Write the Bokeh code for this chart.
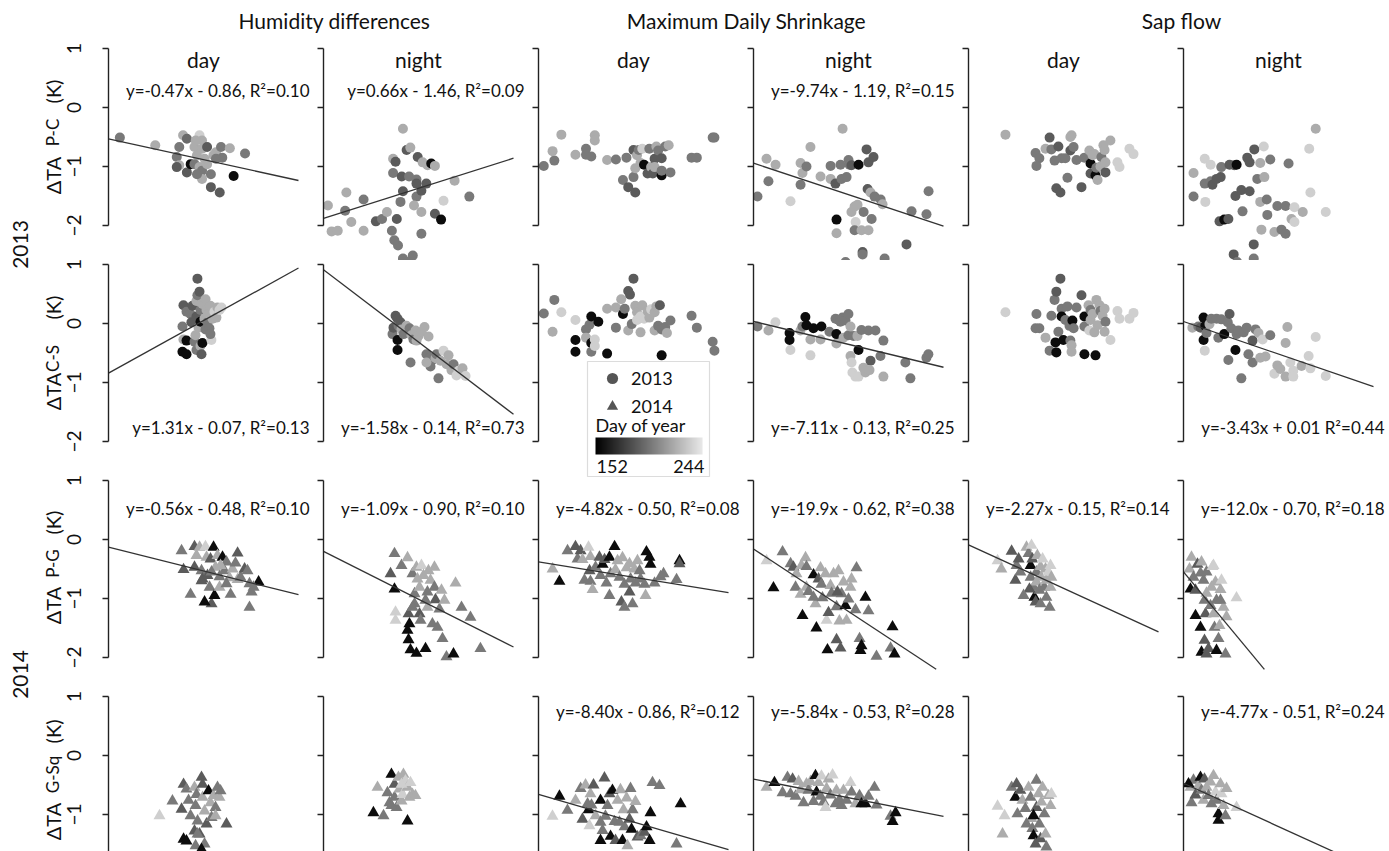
from math import pi

from bokeh.core.properties import value
from bokeh.embed import file_html
from bokeh.layouts import column, gridplot, row
from bokeh.models import (BoxAnnotation, ColorBar, ColumnDataSource, FixedTicker,
                          Label, Legend, LegendItem, LinearAxis, LinearColorMapper,
                          Range1d)
from bokeh.plotting import figure
from bokeh.resources import INLINE

FONT = "Lato"
INK = "#111111"
AXIS_INK = "#222222"

# ---------------------------------------------------------------------------
# Observations: (predictor value, temperature difference in K, day of year)
# rows: dTA P-C 2013, dTA C-S 2013, dTA P-G 2014, dTA G-Sq 2014
# cols: humidity diff day/night, max daily shrinkage day/night, sap flow day/night
# ---------------------------------------------------------------------------
pc13_hd_day = [
    (-0.61, -0.51, 200), (-0.33, -0.64, 220), (-0.16, -0.84, 200), (-0.14, -0.98, 220),
    (-0.11, -0.47, 220), (-0.08, -0.53, 194), (-0.02, -0.67, 220), (0.00, -0.81, 220),
    (0.02, -0.47, 234), (0.04, -0.56, 220), (0.04, -0.70, 220), (-0.08, -1.10, 188),
    (-0.05, -0.96, 157), (-0.02, -0.96, 200), (0.02, -1.01, 220), (0.04, -1.07, 200),
    (0.04, -1.21, 220), (0.08, -0.96, 220), (0.08, -0.67, 188), (0.11, -1.35, 188),
    (0.13, -0.81, 220), (0.15, -0.76, 220), (0.18, -1.44, 188), (0.19, -0.67, 200),
    (0.20, -0.85, 200), (0.26, -0.69, 220), (0.29, -1.16, 157), (0.38, -0.78, 200),
    (0.11, -1.13, 200), (0.00, -1.13, 200), (0.06, -0.87, 220), (-0.01, -0.56, 220),
    (-0.14, -0.67, 200), (-0.16, -1.01, 188), (0.15, -0.87, 200),
]
pc13_hd_night = [
    (-0.60, -1.66, 220), (-0.57, -2.10, 220), (-0.52, -2.09, 220), (-0.45, -1.44, 220),
    (-0.46, -1.75, 200), (-0.41, -1.94, 220), (-0.31, -1.56, 200), (-0.31, -2.09, 220),
    (-0.21, -1.93, 188), (-0.16, -1.89, 200), (-0.12, -1.77, 220), (-0.08, -2.09, 200),
    (-0.04, -1.89, 188), (-0.01, -1.60, 200), (-0.07, -0.87, 220), (-0.07, -1.11, 200),
    (-0.05, -0.92, 188), (0.01, -0.36, 220), (0.04, -0.72, 188), (0.07, -0.68, 220),
    (0.00, -1.17, 188), (0.06, -1.17, 200), (0.12, -1.22, 200), (0.12, -1.29, 188),
    (0.01, -1.42, 188), (0.12, -1.51, 200), (0.16, -1.41, 188), (0.10, -1.66, 220),
    (0.16, -1.77, 220), (0.13, -0.84, 188), (0.17, -0.93, 220), (0.21, -0.98, 220),
    (0.24, -0.95, 157), (0.27, -0.99, 220), (0.20, -1.29, 188), (0.27, -1.80, 188),
    (0.32, -1.90, 157), (0.34, -1.58, 234), (0.43, -1.24, 220), (0.55, -1.51, 200),
    (0.16, -2.14, 200), (-0.03, -2.34, 200), (0.01, -2.56, 200), (0.09, -2.51, 200),
    (0.05, -2.62, 200), (-0.06, -2.25, 200),
]
pc13_mds_day = [
    (-0.022, -0.99, 200), (-0.016, -0.90, 200), (-0.017, -0.74, 220), (-0.012, -0.46, 220),
    (-0.004, -0.80, 220), (0.002, -0.70, 200), (0.002, -0.80, 200), (0.005, -0.83, 200),
    (0.007, -0.47, 220), (0.007, -0.56, 220), (0.014, -0.89, 220), (0.019, -0.88, 200),
    (0.023, -1.23, 200), (0.025, -0.85, 200), (0.026, -1.35, 188), (0.029, -0.72, 188),
    (0.030, -1.44, 188), (0.029, -1.18, 200), (0.030, -1.03, 220), (0.031, -0.81, 220),
    (0.032, -0.72, 200), (0.033, -0.94, 220), (0.034, -0.70, 234), (0.035, -0.97, 157),
    (0.037, -1.12, 188), (0.038, -0.70, 200), (0.039, -1.01, 220), (0.040, -1.12, 188),
    (0.041, -0.87, 188), (0.041, -1.01, 220), (0.042, -0.66, 220), (0.043, -0.73, 200),
    (0.045, -0.86, 188), (0.045, -1.15, 157), (0.045, -1.07, 200), (0.047, -0.66, 200),
    (0.049, -0.64, 220), (0.050, -1.10, 200), (0.062, -0.85, 200), (0.065, -0.85, 200),
    (0.074, -0.51, 200), (0.075, -0.51, 200),
]
pc13_mds_night = [
    (-0.0230, -1.51, 200), (-0.0178, -0.87, 220), (-0.0167, -1.25, 200), (-0.0126, -0.97, 220),
    (-0.0040, -1.59, 234), (0.0018, -0.94, 220), (0.0018, -1.31, 200), (0.0029, -1.11, 220),
    (0.0052, -1.00, 200), (0.0075, -0.67, 220), (0.0133, -1.17, 220), (0.0191, -1.21, 220),
    (0.0191, -0.99, 200), (0.0219, -1.29, 188), (0.0225, -1.90, 157), (0.0225, -2.13, 220),
    (0.0248, -0.97, 200), (0.0254, -1.21, 200), (0.0260, -0.36, 220), (0.0283, -1.18, 200),
    (0.0294, -0.89, 200), (0.0300, -0.97, 200), (0.0311, -0.98, 188), (0.0311, -1.77, 220),
    (0.0329, -1.68, 220), (0.0335, -1.94, 234), (0.0329, -2.08, 200), (0.0346, -1.65, 220),
    (0.0352, -0.97, 157), (0.0369, -2.08, 220), (0.0375, -2.45, 188), (0.0381, -1.77, 200),
    (0.0398, -0.71, 188), (0.0404, -1.38, 188), (0.0409, -0.93, 188), (0.0409, -2.08, 220),
    (0.0421, -1.44, 220), (0.0427, -1.89, 200), (0.0438, -0.84, 188), (0.0444, -1.51, 200),
    (0.0479, -1.56, 200), (0.0490, -1.64, 220), (0.0628, -2.32, 188), (0.0657, -1.76, 200),
    (0.0743, -1.81, 200), (0.0755, -1.42, 200), (0.0277, -2.62, 200), (0.0375, -2.49, 200),
    (0.0502, -2.56, 200),
]
pc13_sf_day = [
    (0.100, -0.46, 220), (0.203, -0.77, 200), (0.216, -0.86, 200), (0.206, -0.99, 200),
    (0.237, -0.70, 220), (0.251, -0.51, 188), (0.257, -0.71, 200), (0.268, -0.90, 200),
    (0.281, -0.66, 188), (0.274, -1.37, 188), (0.288, -1.44, 188), (0.292, -0.86, 200),
    (0.305, -0.86, 200), (0.312, -1.19, 200), (0.322, -0.50, 220), (0.326, -0.47, 220),
    (0.322, -0.73, 188), (0.333, -0.67, 200), (0.343, -0.89, 200), (0.360, -1.35, 188),
    (0.370, -0.85, 200), (0.387, -0.73, 220), (0.391, -1.12, 188), (0.391, -0.95, 157),
    (0.398, -0.81, 220), (0.404, -0.79, 220), (0.408, -1.15, 157), (0.411, -1.02, 200),
    (0.415, -1.23, 220), (0.425, -1.00, 220), (0.428, -0.84, 200), (0.435, -0.64, 220),
    (0.439, -0.72, 220), (0.442, -1.10, 188), (0.442, -0.93, 220), (0.459, -0.56, 220),
    (0.483, -0.93, 234), (0.490, -1.01, 234), (0.524, -0.70, 234), (0.538, -0.79, 234),
]
pc13_sf_night = [
    (0.010, -1.11, 220), (0.010, -1.51, 200), (0.029, -0.87, 234), (0.029, -1.29, 200),
    (0.030, -1.60, 234), (0.039, -0.97, 234), (0.039, -1.25, 200), (0.042, -1.31, 188),
    (0.049, -1.21, 188), (0.056, -1.18, 188), (0.057, -1.01, 200), (0.054, -1.93, 188),
    (0.062, -1.90, 157), (0.069, -1.89, 188), (0.071, -0.97, 188), (0.079, -0.98, 188),
    (0.083, -0.97, 157), (0.081, -1.50, 188), (0.091, -1.40, 188), (0.093, -1.76, 200),
    (0.101, -0.85, 188), (0.105, -0.93, 188), (0.105, -1.42, 188), (0.112, -2.32, 188),
    (0.113, -0.71, 188), (0.118, -1.21, 200), (0.123, -0.94, 220), (0.123, -1.60, 220),
    (0.125, -2.07, 220), (0.129, -0.66, 234), (0.130, -1.18, 220), (0.134, -1.56, 200),
    (0.135, -1.82, 200), (0.140, -0.88, 200), (0.147, -2.11, 220), (0.152, -1.67, 200),
    (0.159, -2.07, 200), (0.166, -1.67, 200), (0.166, -2.14, 200), (0.171, -0.95, 200),
    (0.176, -1.89, 220), (0.181, -1.69, 234), (0.181, -1.94, 234), (0.195, -1.77, 220),
    (0.206, -0.70, 234), (0.208, -1.44, 234), (0.217, -0.36, 220), (0.234, -1.77, 234),
    (0.078, -2.49, 188), (0.084, -2.62, 200), (0.112, -2.56, 200),
]

cs13_hd_day = [
    (-0.052, 0.31, 188), (-0.030, 0.20, 200), (-0.059, -0.05, 200), (-0.052, -0.27, 220),
    (-0.030, -0.29, 157), (-0.059, -0.48, 157), (-0.030, -0.52, 157), (-0.002, 0.16, 200),
    (0.005, 0.02, 188), (0.013, 0.30, 188), (0.027, -0.31, 200), (0.034, -0.20, 220),
    (0.041, -0.45, 200), (0.041, 0.38, 220), (0.041, 0.12, 188), (0.048, 0.76, 188),
    (0.048, 0.48, 200), (0.056, -0.07, 220), (0.063, 0.54, 188), (0.070, 0.23, 200),
    (0.070, 0.03, 157), (0.070, -0.38, 220), (0.077, -0.52, 188), (0.084, -0.33, 157),
    (0.084, 0.33, 220), (0.098, 0.08, 220), (0.106, 0.41, 220), (0.106, -0.10, 200),
    (0.113, 0.23, 220), (0.120, 0.02, 200), (0.127, 0.16, 220), (0.134, -0.08, 200),
    (0.141, 0.30, 220), (0.148, -0.28, 234), (0.156, 0.08, 220), (0.170, 0.20, 234),
    (0.184, 0.10, 220), (0.191, 0.27, 220), (0.206, 0.23, 234), (0.220, 0.27, 234),
    (0.141, -0.18, 200),
]
cs13_hd_night = [
    (-0.102, -0.18, 200), (-0.094, -0.07, 188), (-0.077, 0.13, 188), (-0.061, 0.08, 188),
    (-0.053, -0.04, 200), (-0.061, -0.28, 157), (-0.061, -0.45, 157), (-0.037, 0.02, 188),
    (-0.029, -0.10, 220), (-0.012, -0.18, 200), (0.012, -0.04, 220), (0.037, -0.08, 200),
    (0.045, -0.66, 200), (0.053, -0.20, 220), (0.069, -0.27, 200), (0.086, -0.12, 220),
    (0.094, -0.29, 220), (0.110, -0.21, 220), (0.135, -0.14, 220), (0.159, -0.06, 220),
    (0.175, -0.52, 200), (0.192, -0.22, 220), (0.200, -0.58, 200), (0.224, -0.62, 200),
    (0.249, -0.59, 220), (0.257, -0.52, 200), (0.273, -0.93, 200), (0.290, -0.63, 220),
    (0.314, -0.46, 234), (0.339, -0.69, 220), (0.355, -0.54, 220), (0.379, -0.79, 220),
    (0.396, -0.69, 200), (0.420, -0.88, 234), (0.437, -0.80, 234), (0.469, -0.76, 220),
    (0.494, -0.89, 234), (0.208, -0.73, 200), (0.175, -0.66, 220),
]
cs13_mds_day = [
    (-0.022, 0.17, 200), (-0.016, 0.40, 200), (-0.017, -0.14, 220), (-0.012, 0.19, 234),
    (-0.004, -0.28, 157), (-0.004, -0.48, 157), (-0.004, 0.06, 234), (0.002, -0.10, 200),
    (0.002, -0.24, 220), (0.004, -0.02, 200), (0.005, 0.12, 157), (0.005, -0.33, 157),
    (0.005, -0.48, 200), (0.007, -0.27, 234), (0.007, -0.38, 234), (0.009, 0.03, 157),
    (0.014, 0.25, 220), (0.014, -0.51, 157), (0.019, -0.07, 200), (0.019, 0.27, 220),
    (0.022, 0.41, 220), (0.023, 0.16, 157), (0.024, 0.25, 200), (0.026, 0.55, 188),
    (0.027, 0.49, 188), (0.026, -0.12, 220), (0.028, -0.01, 200), (0.029, 0.76, 188),
    (0.030, 0.30, 220), (0.031, 0.19, 220), (0.031, 0.06, 234), (0.033, -0.15, 220),
    (0.033, 0.12, 234), (0.034, 0.31, 220), (0.035, 0.08, 234), (0.037, 0.21, 220),
    (0.038, 0.10, 220), (0.039, 0.24, 234), (0.041, -0.12, 220), (0.041, 0.19, 220),
    (0.042, 0.29, 220), (0.043, -0.04, 200), (0.044, 0.31, 188), (0.045, -0.54, 157),
    (0.045, -0.10, 200), (0.047, -0.06, 200), (0.048, -0.16, 220), (0.050, 0.05, 200),
    (0.062, 0.13, 200), (0.065, -0.07, 200), (0.074, -0.31, 200), (0.075, -0.46, 200),
]
cs13_mds_night = [
    (-0.0208, -0.05, 200), (-0.0145, -0.12, 220), (-0.0105, 0.02, 234), (-0.0024, -0.16, 157),
    (-0.0024, -0.28, 157), (-0.0019, -0.45, 234), (0.0039, -0.12, 220), (0.0050, -0.05, 200),
    (0.0067, 0.11, 157), (0.0073, -0.03, 157), (0.0096, -0.27, 220), (0.0096, -0.54, 234),
    (0.0113, -0.08, 157), (0.0154, -0.27, 220), (0.0159, -0.05, 157), (0.0205, -0.14, 200),
    (0.0240, 0.08, 200), (0.0245, -0.34, 220), (0.0245, -0.18, 157), (0.0257, 0.06, 200),
    (0.0268, 0.03, 200), (0.0280, 0.10, 200), (0.0286, -0.24, 220), (0.0297, 0.05, 200),
    (0.0314, 0.16, 200), (0.0314, -0.20, 200), (0.0326, -0.55, 220), (0.0326, -0.05, 220),
    (0.0332, -0.66, 234), (0.0337, -0.83, 234), (0.0343, -0.21, 200), (0.0354, -0.90, 234),
    (0.0366, -0.21, 220), (0.0372, -0.45, 157), (0.0372, -0.90, 234), (0.0389, -0.11, 200),
    (0.0400, -0.75, 220), (0.0412, -0.83, 220), (0.0429, -0.12, 200), (0.0441, -0.63, 188),
    (0.0435, -0.79, 220), (0.0469, -0.12, 200), (0.0498, -0.55, 200), (0.0515, -0.29, 200),
    (0.0515, -0.90, 220), (0.0641, -0.66, 200), (0.0670, -0.93, 200), (0.0762, -0.58, 200),
    (0.0773, -0.52, 200),
]
cs13_sf_day = [
    (0.100, 0.19, 234), (0.206, 0.16, 200), (0.203, -0.08, 200), (0.216, -0.08, 200),
    (0.237, -0.24, 220), (0.251, -0.46, 200), (0.257, 0.13, 200), (0.268, 0.40, 200),
    (0.271, -0.32, 157), (0.274, -0.49, 157), (0.274, 0.54, 188), (0.281, -0.14, 200),
    (0.288, 0.76, 188), (0.292, 0.25, 200), (0.292, 0.12, 157), (0.298, -0.28, 157),
    (0.305, 0.06, 200), (0.312, 0.29, 200), (0.319, -0.04, 200), (0.322, -0.29, 200),
    (0.326, -0.37, 220), (0.326, -0.48, 220), (0.329, 0.05, 157), (0.333, -0.08, 200),
    (0.343, 0.27, 200), (0.360, 0.48, 188), (0.370, -0.52, 157), (0.370, 0.12, 157),
    (0.370, -0.05, 200), (0.384, 0.31, 220), (0.387, -0.12, 234), (0.391, 0.23, 200),
    (0.391, 0.06, 220), (0.398, 0.16, 220), (0.404, -0.15, 220), (0.408, -0.54, 157),
    (0.411, 0.40, 220), (0.415, -0.03, 220), (0.422, 0.31, 220), (0.425, 0.21, 200),
    (0.432, 0.13, 220), (0.439, -0.14, 220), (0.439, 0.25, 220), (0.442, 0.03, 200),
    (0.459, -0.28, 234), (0.483, 0.21, 234), (0.490, 0.08, 234), (0.524, 0.08, 234),
    (0.538, 0.18, 234),
]
cs13_sf_night = [
    (0.008, -0.07, 220), (0.018, -0.05, 200), (0.022, -0.07, 188), (0.027, 0.10, 157),
    (0.027, -0.28, 157), (0.029, -0.46, 234), (0.030, -0.04, 157), (0.032, -0.16, 200),
    (0.037, -0.01, 220), (0.040, 0.08, 200), (0.049, 0.08, 200), (0.052, -0.24, 200),
    (0.057, 0.07, 200), (0.062, -0.18, 157), (0.068, 0.02, 200), (0.069, -0.62, 200),
    (0.071, 0.16, 188), (0.074, -0.08, 200), (0.081, -0.45, 157), (0.083, -0.18, 200),
    (0.086, -0.12, 200), (0.091, -0.93, 200), (0.095, -0.15, 200), (0.100, -0.07, 200),
    (0.103, -0.52, 200), (0.110, -0.29, 188), (0.110, -0.66, 200), (0.115, -0.10, 200),
    (0.120, -0.16, 220), (0.123, -0.58, 220), (0.127, -0.27, 234), (0.132, -0.56, 220),
    (0.140, -0.20, 200), (0.147, -0.85, 234), (0.152, -0.71, 220), (0.157, -0.77, 220),
    (0.166, -0.33, 220), (0.166, -0.90, 220), (0.169, -0.06, 220), (0.174, -0.66, 234),
    (0.179, -0.80, 234), (0.179, -0.90, 234), (0.193, -0.72, 220), (0.205, -0.55, 234),
    (0.208, -0.76, 234), (0.217, -0.23, 234), (0.234, -0.89, 234),
]

pg14_hd_day = [
    (-0.072, -0.19, 200), (-0.057, -0.51, 188), (0.026, -0.12, 188), (0.026, -0.47, 188),
    (0.041, -0.27, 220), (0.064, -0.13, 220), (0.079, -0.53, 200), (0.087, -0.67, 188),
    (-0.004, -0.93, 200), (0.109, -0.12, 234), (0.117, -0.30, 220), (0.124, -0.61, 188),
    (0.140, -0.81, 200), (0.147, -0.33, 188), (0.155, -1.09, 188), (0.102, -1.06, 157),
    (0.170, -0.13, 157), (0.177, -0.95, 157), (0.185, -0.47, 220), (0.200, -0.27, 220),
    (0.215, -0.63, 200), (0.215, -0.81, 220), (0.238, -0.30, 157), (0.253, -0.53, 200),
    (0.268, -0.38, 200), (0.291, -0.65, 220), (0.299, -0.93, 200), (0.314, -0.50, 220),
    (0.336, -0.40, 200), (0.352, -0.23, 188), (0.352, -0.68, 220), (0.374, -0.64, 200),
    (0.405, -0.50, 188), (0.427, -0.53, 200), (0.442, -0.75, 200), (0.458, -0.89, 200),
    (0.442, -1.15, 200), (0.511, -0.72, 157), (0.473, -0.81, 200), (0.155, -0.55, 200),
    (0.268, -0.75, 200), (0.079, -0.70, 188), (0.223, -0.44, 220),
]
pg14_hd_night = [
    (-0.086, -0.24, 200), (-0.117, -0.58, 188), (-0.086, -0.84, 157), (-0.078, -1.23, 234),
    (-0.078, -1.37, 234), (-0.031, -0.44, 200), (0.016, -0.31, 220), (0.024, -1.26, 188),
    (0.031, -1.43, 157), (0.016, -1.54, 157), (0.024, -1.70, 157), (0.039, -1.87, 157),
    (0.086, -1.93, 157), (0.055, -0.58, 200), (0.071, -0.92, 200), (0.071, -1.09, 200),
    (0.086, -0.47, 220), (0.094, -0.67, 220), (0.110, -0.81, 220), (0.110, -1.26, 188),
    (0.118, -1.37, 200), (0.125, -0.44, 234), (0.141, -0.61, 220), (0.157, -1.85, 157),
    (0.172, -0.89, 200), (0.172, -1.15, 220), (0.180, -0.53, 220), (0.196, -0.69, 220),
    (0.211, -1.43, 200), (0.227, -0.81, 200), (0.235, -1.02, 188), (0.251, -1.49, 200),
    (0.266, -1.18, 200), (0.282, -0.86, 220), (0.305, -1.03, 220), (0.290, -1.68, 200),
    (0.321, -1.99, 200), (0.376, -1.94, 157), (0.392, -0.74, 220), (0.439, -1.15, 200),
    (0.509, -1.32, 200), (0.587, -1.85, 200), (0.227, -0.47, 220), (0.157, -1.03, 200),
    (0.055, -1.15, 200),
]
pg14_mds_day = [
    (-0.0169, -0.50, 220), (-0.0130, -0.71, 157), (-0.0084, -0.19, 200), (-0.0039, -0.12, 188),
    (-0.0027, -0.33, 200), (-0.0010, -0.19, 188), (0.0001, -0.34, 220), (0.0035, -0.13, 234),
    (0.0041, -0.53, 188), (0.0046, -0.29, 220), (0.0046, -0.71, 200), (0.0058, -0.85, 220),
    (0.0075, -0.47, 200), (0.0097, -0.30, 188), (0.0103, -0.61, 200), (0.0115, -0.42, 157),
    (0.0126, -0.34, 188), (0.0137, -0.74, 200), (0.0154, -0.30, 157), (0.0154, -0.95, 200),
    (0.0160, -0.58, 200), (0.0183, -0.12, 157), (0.0188, -0.51, 220), (0.0200, -0.36, 220),
    (0.0211, -0.64, 200), (0.0222, -1.06, 188), (0.0228, -0.31, 220), (0.0239, -1.15, 200),
    (0.0239, -0.76, 200), (0.0251, -0.48, 220), (0.0268, -0.89, 188), (0.0274, -0.67, 200),
    (0.0285, -1.09, 200), (0.0296, -0.50, 220), (0.0302, -0.74, 200), (0.0313, -0.36, 220),
    (0.0325, -0.53, 200), (0.0330, -0.67, 200), (0.0353, -0.76, 200), (0.0359, -0.95, 220),
    (0.0364, -0.21, 157), (0.0381, -0.30, 157), (0.0387, -0.42, 157), (0.0410, -0.74, 200),
    (0.0444, -0.63, 200), (0.0461, -0.58, 200), (0.0535, -0.68, 200), (0.0552, -0.36, 157),
    (0.0552, -0.41, 188), (0.0012, -0.69, 200), (0.0268, -0.41, 220),
]
pg14_mds_night = [
    (-0.0158, -0.36, 234), (-0.0119, -0.82, 157), (-0.0068, -0.21, 200), (-0.0023, -0.41, 200),
    (-0.0007, -0.47, 188), (0.0005, -0.81, 200), (0.0010, -0.58, 220), (0.0033, -0.93, 220),
    (0.0038, -0.44, 220), (0.0044, -1.29, 157), (0.0061, -0.31, 220), (0.0066, -0.46, 200),
    (0.0066, -0.81, 220), (0.0078, -0.88, 200), (0.0106, -0.60, 157), (0.0117, -1.09, 220),
    (0.0122, -1.50, 157), (0.0134, -0.67, 188), (0.0145, -0.48, 220), (0.0150, -0.76, 200),
    (0.0156, -0.99, 200), (0.0173, -0.58, 220), (0.0179, -1.37, 234), (0.0184, -1.87, 157),
    (0.0190, -1.24, 188), (0.0201, -0.78, 220), (0.0207, -0.91, 200), (0.0218, -0.58, 220),
    (0.0235, -1.70, 188), (0.0235, -1.14, 200), (0.0246, -0.53, 220), (0.0251, -1.38, 220),
    (0.0257, -1.84, 188), (0.0263, -0.92, 200), (0.0274, -0.72, 220), (0.0285, -1.12, 157),
    (0.0291, -1.37, 220), (0.0302, -1.01, 200), (0.0313, -0.81, 220), (0.0319, -0.67, 220),
    (0.0341, -1.19, 200), (0.0347, -0.48, 200), (0.0364, -1.68, 200), (0.0369, -1.88, 157),
    (0.0375, -1.80, 157), (0.0397, -0.98, 157), (0.0414, -1.21, 200), (0.0459, -1.98, 200),
    (0.0538, -1.84, 200), (0.0549, -1.48, 157), (0.0560, -1.94, 157), (0.0240, -0.89, 188),
    (0.0106, -0.98, 200),
]
pg14_sf_day = [
    (0.073, -0.36, 234), (0.086, -0.50, 220), (0.121, -0.20, 188), (0.134, -0.69, 188),
    (0.138, -0.44, 200), (0.145, -0.33, 188), (0.151, -0.55, 200), (0.172, -0.13, 220),
    (0.179, -0.24, 200), (0.186, -0.64, 200), (0.186, -0.44, 157), (0.189, -0.10, 234),
    (0.192, -0.33, 188), (0.196, -0.81, 200), (0.199, -0.98, 157), (0.203, -1.06, 188),
    (0.206, -0.72, 220), (0.206, -0.55, 200), (0.209, -0.27, 220), (0.216, -0.86, 200),
    (0.220, -1.09, 200), (0.220, -0.46, 220), (0.223, -0.64, 220), (0.227, -0.33, 234),
    (0.233, -0.81, 200), (0.237, -0.50, 220), (0.240, -0.98, 200), (0.240, -0.69, 220),
    (0.247, -0.55, 234), (0.251, -1.15, 200), (0.254, -0.81, 220), (0.254, -0.44, 234),
    (0.257, -0.64, 220), (0.182, -0.84, 188), (0.162, -0.95, 200),
]
pg14_sf_night = [
    (0.0011, -0.30, 220), (-0.0023, -0.50, 220), (0.0045, -0.64, 200), (-0.0006, -0.84, 157),
    (0.0079, -0.86, 188), (0.0113, -0.42, 188), (0.0164, -0.57, 200), (0.0181, -0.38, 220),
    (0.0215, -0.69, 200), (0.0232, -1.03, 200), (0.0249, -1.26, 188), (0.0266, -0.91, 220),
    (0.0266, -0.55, 200), (0.0079, -1.29, 157), (0.0164, -1.49, 157), (0.0232, -1.71, 188),
    (0.0181, -1.91, 157), (0.0266, -1.94, 188), (0.0300, -1.85, 188), (0.0334, -1.12, 200),
    (0.0351, -0.81, 220), (0.0368, -0.46, 234), (0.0385, -1.26, 220), (0.0402, -1.49, 200),
    (0.0419, -0.72, 220), (0.0436, -1.88, 157), (0.0436, -1.03, 200), (0.0470, -1.68, 200),
    (0.0487, -1.46, 220), (0.0504, -0.85, 220), (0.0521, -0.69, 234), (0.0555, -1.15, 220),
    (0.0589, -1.94, 200), (0.0606, -1.31, 220), (0.0776, -0.99, 234), (0.0385, -0.44, 234),
    (0.0504, -1.03, 200),
]

gsq14_hd_day = [
    (-0.239, -1.02, 234), (-0.141, -0.77, 200), (-0.057, -0.49, 188), (-0.072, -0.91, 188),
    (-0.035, -0.57, 200), (-0.019, -0.76, 200), (-0.004, -1.02, 200), (0.026, -0.54, 220),
    (0.034, -0.85, 200), (0.041, -0.66, 200), (0.049, -1.11, 200), (0.064, -1.33, 188),
    (-0.057, -1.42, 157), (-0.035, -1.45, 157), (0.079, -0.37, 188), (0.087, -0.49, 188),
    (0.087, -0.71, 220), (0.102, -0.94, 220), (0.117, -1.16, 188), (0.102, -1.50, 200),
    (0.132, -0.60, 157), (0.147, -0.80, 220), (0.155, -1.05, 200), (0.026, -1.28, 188),
    (0.034, -1.53, 200), (0.170, -0.68, 220), (0.185, -0.88, 200), (0.200, -0.54, 200),
    (0.215, -0.71, 220), (0.223, -0.60, 200), (0.268, -1.16, 188), (0.185, -1.02, 220),
    (0.049, -1.33, 200), (0.079, -1.59, 157),
]
gsq14_hd_night = [
    (-0.251, -0.97, 157), (-0.219, -0.54, 220), (-0.172, -1.02, 200), (-0.141, -0.63, 200),
    (-0.125, -0.80, 200), (-0.110, -0.32, 157), (-0.086, -0.49, 188), (-0.086, -0.71, 200),
    (-0.070, -0.88, 200), (-0.055, -0.37, 220), (-0.047, -0.57, 220), (-0.031, -0.77, 220),
    (-0.023, -0.66, 234), (-0.016, -0.32, 220), (0.000, -0.43, 234), (0.016, -0.54, 220),
    (0.016, -1.11, 157), (0.031, -0.71, 220), (0.039, -0.46, 234), (0.055, -0.66, 220),
    (0.078, -0.68, 220), (-0.110, -0.85, 200), (-0.031, -0.49, 234),
]
gsq14_mds_day = [
    (-0.0156, -1.03, 234), (-0.0115, -0.69, 157), (-0.0068, -0.93, 200), (-0.0021, -0.76, 220),
    (0.0009, -0.56, 200), (0.0020, -1.08, 188), (0.0038, -0.50, 220), (0.0056, -0.92, 157),
    (0.0061, -1.19, 234), (0.0067, -0.65, 220), (0.0073, -0.84, 200), (0.0085, -0.50, 188),
    (0.0097, -1.02, 220), (0.0126, -1.44, 157), (0.0126, -0.76, 157), (0.0138, -1.27, 200),
    (0.0149, -0.38, 188), (0.0155, -1.03, 200), (0.0167, -0.85, 200), (0.0179, -0.65, 188),
    (0.0185, -1.37, 157), (0.0196, -0.59, 157), (0.0208, -1.12, 200), (0.0214, -1.44, 188),
    (0.0226, -0.76, 220), (0.0237, -1.13, 200), (0.0243, -0.58, 220), (0.0255, -1.44, 157),
    (0.0261, -0.92, 220), (0.0267, -1.21, 200), (0.0279, -0.72, 220), (0.0284, -1.53, 220),
    (0.0296, -1.08, 188), (0.0302, -0.56, 200), (0.0308, -1.25, 157), (0.0314, -0.92, 200),
    (0.0331, -0.78, 220), (0.0343, -1.38, 188), (0.0361, -1.36, 200), (0.0384, -1.30, 188),
    (0.0396, -1.21, 157), (0.0414, -1.44, 157), (0.0419, -0.97, 157), (0.0431, -0.46, 200),
    (0.0472, -0.51, 200), (0.0572, -1.50, 200), (0.0596, -0.82, 157), (0.0126, -1.13, 200),
    (0.0050, -0.82, 200),
]
gsq14_mds_night = [
    (-0.0149, -0.54, 220), (-0.0104, -0.46, 157), (-0.0058, -0.63, 200), (-0.0030, -0.37, 200),
    (-0.0013, -0.65, 200), (-0.0001, -0.40, 188), (0.0016, -0.69, 200), (0.0033, -0.44, 220),
    (0.0044, -0.58, 220), (0.0061, -0.80, 200), (0.0078, -0.48, 220), (0.0089, -0.59, 200),
    (0.0101, -0.44, 220), (0.0118, -0.78, 200), (0.0129, -0.34, 157), (0.0135, -0.62, 157),
    (0.0146, -0.46, 220), (0.0158, -0.69, 200), (0.0163, -0.35, 234), (0.0175, -0.79, 200),
    (0.0186, -0.88, 234), (0.0192, -0.56, 220), (0.0203, -0.40, 220), (0.0214, -0.67, 200),
    (0.0226, -0.33, 234), (0.0243, -0.82, 200), (0.0248, -0.59, 220), (0.0265, -0.75, 200),
    (0.0277, -0.85, 200), (0.0288, -0.59, 220), (0.0305, -0.76, 200), (0.0328, -0.46, 234),
    (0.0334, -0.62, 200), (0.0356, -0.82, 220), (0.0379, -0.68, 200), (0.0390, -0.82, 157),
    (0.0413, -0.82, 157), (0.0430, -0.69, 200), (0.0464, -0.54, 200), (0.0476, -0.84, 200),
    (0.0555, -1.03, 200), (0.0567, -1.12, 157), (0.0584, -0.97, 157),
]
gsq14_sf_day = [
    (0.073, -0.86, 234), (0.090, -1.33, 220), (0.097, -1.02, 234), (0.121, -0.54, 200),
    (0.134, -0.71, 157), (0.138, -0.48, 188), (0.141, -0.99, 200), (0.151, -0.59, 188),
    (0.158, -0.76, 220), (0.168, -0.90, 200), (0.179, -0.54, 220), (0.186, -0.71, 200),
    (0.189, -1.07, 220), (0.192, -1.24, 200), (0.196, -1.36, 157), (0.203, -1.50, 188),
    (0.206, -0.88, 188), (0.206, -0.42, 200), (0.213, -0.65, 220), (0.216, -1.16, 200),
    (0.220, -1.41, 188), (0.223, -0.79, 220), (0.227, -0.54, 220), (0.233, -0.99, 200),
    (0.237, -1.33, 220), (0.240, -1.55, 200), (0.247, -0.68, 220), (0.254, -0.85, 220),
    (0.257, -0.65, 234), (0.196, -1.02, 157), (0.172, -1.16, 200),
]
gsq14_sf_night = [
    (0.0029, -0.54, 220), (0.0046, -0.80, 200), (0.0078, -0.42, 200), (0.0110, -0.67, 188),
    (0.0159, -0.51, 220), (0.0191, -0.37, 157), (0.0208, -0.59, 200), (0.0240, -0.76, 220),
    (0.0256, -0.40, 188), (0.0289, -0.54, 220), (0.0321, -0.68, 200), (0.0353, -0.45, 220),
    (0.0370, -0.82, 200), (0.0402, -0.34, 220), (0.0434, -0.62, 234), (0.0451, -0.76, 200),
    (0.0483, -0.99, 157), (0.0483, -1.10, 157), (0.0515, -0.48, 220), (0.0532, -0.65, 234),
    (0.0564, -0.85, 220), (0.0596, -1.02, 200), (0.0613, -0.56, 220), (0.0775, -0.88, 234),
    (-0.0003, -0.48, 157),
]

# Linear fits (None where no fit line is shown)
pc13_slope = [-0.47, 0.66, None, -9.74, None, None]
pc13_intercept = [-0.86, -1.46, None, -1.19, None, None]
cs13_slope = [1.31, -1.58, None, -7.11, None, -3.43]
cs13_intercept = [-0.07, -0.14, None, -0.13, None, 0.01]
pg14_slope = [-0.56, -1.09, -4.82, -19.9, -2.27, -12.0]
pg14_intercept = [-0.48, -0.90, -0.50, -0.62, -0.15, -0.70]
gsq14_slope = [None, None, -8.40, -5.84, None, -4.77]
gsq14_intercept = [None, None, -0.86, -0.53, None, -0.51]

pc13_fit_text = ["y=-0.47x - 0.86, R²=0.10", "y=0.66x - 1.46, R²=0.09", None,
                 "y=-9.74x - 1.19, R²=0.15", None, None]
cs13_fit_text = ["y=1.31x - 0.07, R²=0.13", "y=-1.58x - 0.14, R²=0.73", None,
                 "y=-7.11x - 0.13, R²=0.25", None, "y=-3.43x + 0.01 R²=0.44"]
pg14_fit_text = ["y=-0.56x - 0.48, R²=0.10", "y=-1.09x - 0.90, R²=0.10",
                 "y=-4.82x - 0.50, R²=0.08", "y=-19.9x - 0.62, R²=0.38",
                 "y=-2.27x - 0.15, R²=0.14", "y=-12.0x - 0.70, R²=0.18"]
gsq14_fit_text = [None, None, "y=-8.40x - 0.86, R²=0.12", "y=-5.84x - 0.53, R²=0.28",
                  None, "y=-4.77x - 0.51, R²=0.24"]

# x limits of each panel's plotting region
pc13_xlim = [(-0.70, 0.803), (-0.636, 0.909), (-0.025, 0.083), (-0.0253, 0.0841),
             (-0.0264, 0.6234), (-0.007, 0.3149)]
cs13_xlim = [(-0.588, 0.771), (-0.665, 0.885), (-0.025, 0.083), (-0.0231, 0.0860),
             (-0.0264, 0.6234), (-0.007, 0.3149)]
pg14_xlim = [(-0.625, 0.813), (-0.642, 0.846), (-0.0249, 0.0830), (-0.0231, 0.0835),
             (-0.0264, 0.6234), (-0.0125, 0.3105)]
gsq14_xlim = [(-0.625, 0.813), (-0.642, 0.846), (-0.0238, 0.0877), (-0.0223, 0.0856),
              (-0.0264, 0.6234), (-0.0084, 0.2994)]

column_titles = ["Humidity differences", "Maximum Daily Shrinkage", "Sap flow"]
period_titles = ["day", "night", "day", "night", "day", "night"]
year_titles = ["2013", "2014"]
y_ticks = [-2, -1, 0, 1]

# ---------------------------------------------------------------------------
PANELS = [
    [pc13_hd_day, pc13_hd_night, pc13_mds_day, pc13_mds_night, pc13_sf_day, pc13_sf_night],
    [cs13_hd_day, cs13_hd_night, cs13_mds_day, cs13_mds_night, cs13_sf_day, cs13_sf_night],
    [pg14_hd_day, pg14_hd_night, pg14_mds_day, pg14_mds_night, pg14_sf_day, pg14_sf_night],
    [gsq14_hd_day, gsq14_hd_night, gsq14_mds_day, gsq14_mds_night, gsq14_sf_day, gsq14_sf_night],
]
SLOPES = [pc13_slope, cs13_slope, pg14_slope, gsq14_slope]
INTERCEPTS = [pc13_intercept, cs13_intercept, pg14_intercept, gsq14_intercept]
FIT_TEXT = [pc13_fit_text, cs13_fit_text, pg14_fit_text, gsq14_fit_text]
XLIMS = [pc13_xlim, cs13_xlim, pg14_xlim, gsq14_xlim]
MARKERS = ["circle", "circle", "triangle", "triangle"]
MARKER_SIZE = [10, 10, 12, 12]

# page geometry (px)
PAGE_W, PAGE_H = 1389, 851
HEADER_H = 40
STRIP_W = 95
FRAME_W = [207, 207, 207, 207, 207, 206]
BORDER_L = [13, 8, 8, 8, 8, 8]
REGION_W = 190
UNIT = 59                       # px per K
ROW_TOP = [40, 260, 477, 690]
ROW_BOT = [260, 477, 690, 851]
ZERO_Y = [107, 323, 539, 755]   # page y of the 0 K tick
FIT_TEXT_Y = [0.29, -1.76, 0.53, 0.75]
LINE_FLOOR = -2.2

DOY_LOW, DOY_HIGH = 152, 244
GREY_RAMP = ["#%02x%02x%02x" % (g, g, g) for g in range(0, 233)]
doy_mapper = LinearColorMapper(palette=GREY_RAMP, low=DOY_LOW, high=DOY_HIGH)


def blank_figure(**kw):
    p = figure(toolbar_location=None, tools="", output_backend="svg",
               x_axis_location=None, y_axis_location=None,
               min_border_left=0, min_border_right=0, min_border_top=0,
               min_border_bottom=0, outline_line_color=None,
               background_fill_color="white", border_fill_color="white", **kw)
    p.grid.grid_line_color = None
    p.xgrid.visible = False
    p.ygrid.visible = False
    return p


def make_panel(r, c):
    x0, x1 = XLIMS[r][c]
    k = (x1 - x0) / REGION_W
    fw = FRAME_W[c]
    fh = ROW_BOT[r] - ROW_TOP[r]
    y_lo = (ZERO_Y[r] - ROW_BOT[r]) / UNIT
    y_hi = (ZERO_Y[r] - ROW_TOP[r]) / UNIT
    p = blank_figure(frame_width=fw, frame_height=fh,
                     x_range=Range1d(x0, x0 + k * fw), y_range=Range1d(y_lo, y_hi))
    p.min_border_left = BORDER_L[c]

    # the tick values are written in the label strip beside the first column
    ax = LinearAxis(bounds=(-2, 1), ticker=FixedTicker(ticks=y_ticks),
                    axis_line_color=AXIS_INK, axis_line_width=1.4,
                    major_tick_line_color=AXIS_INK, major_tick_line_width=1.4,
                    major_tick_in=0, major_tick_out=6, minor_tick_line_color=None,
                    major_label_text_color=None, major_label_text_font_size="1px",
                    major_label_standoff=0)
    p.add_layout(ax, "left")

    xs, ys, ds = zip(*PANELS[r][c])
    src = ColumnDataSource(dict(x=list(xs), y=list(ys), doy=list(ds)))
    p.scatter("x", "y", source=src, marker=MARKERS[r], size=MARKER_SIZE[r],
              fill_color={"field": "doy", "transform": doy_mapper}, line_color=None)

    m, b = SLOPES[r][c], INTERCEPTS[r][c]
    if m is not None:
        xa, xb = x0, x1
        if m * xb + b < LINE_FLOOR:
            xb = (LINE_FLOOR - b) / m
        p.line([xa, xb], [m * xa + b, m * xb + b], line_color="#333333", line_width=1.3)

    txt = FIT_TEXT[r][c]
    if txt:
        p.add_layout(Label(x=x0 + 201 * k, y=FIT_TEXT_Y[r], text=txt, text_font=FONT,
                           text_font_size="17px", text_color=INK, text_align="right",
                           text_baseline="middle"))
    if r == 0:
        p.add_layout(Label(x=x0 + 95 * k, y=0.81, text=period_titles[c], text_font=FONT,
                           text_font_size="21px", text_color=INK, text_align="center",
                           text_baseline="middle"))
    return p, x0, k


panels = []
for r in range(4):
    row_figs = []
    for c in range(6):
        p, x0, k = make_panel(r, c)
        if r == 1 and c == 2:
            # legend: year symbols and day-of-year colour scale
            top_v = (ZERO_Y[r] - 361) / UNIT
            bot_v = (ZERO_Y[r] - 476) / UNIT
            p.add_layout(BoxAnnotation(left=x0 + 49 * k, right=x0 + 171 * k,
                                       top=top_v, bottom=bot_v, fill_color="white",
                                       fill_alpha=1.0, line_color="#8a8a8a",
                                       line_width=1.2))
            nan = float("nan")
            r13 = p.scatter(x=[nan], y=[nan], marker="circle", size=11,
                            fill_color="#555555", line_color=None)
            r14 = p.scatter(x=[nan], y=[nan], marker="triangle", size=13,
                            fill_color="#555555", line_color=None)
            leg = Legend(items=[LegendItem(label=year_titles[0], renderers=[r13]),
                                LegendItem(label=year_titles[1], renderers=[r14])],
                         location=(60, 57), border_line_color=None,
                         background_fill_alpha=0, label_text_font=FONT,
                         label_text_font_size="18px", label_text_color=INK,
                         glyph_width=28, glyph_height=28, label_height=21,
                         label_standoff=5, spacing=-4, padding=0, margin=0)
            p.add_layout(leg)
            cbar = ColorBar(color_mapper=doy_mapper, orientation="horizontal",
                            location=(57, 23), width=107, height=17, padding=0,
                            margin=0, ticker=FixedTicker(ticks=[]),
                            major_label_text_font_size="0px", label_standoff=0,
                            major_tick_line_color=None, minor_tick_line_color=None,
                            bar_line_color=None, border_line_color=None,
                            background_fill_alpha=0, title="Day of year",
                            title_text_font=FONT, title_text_font_size="18px",
                            title_text_font_style="normal", title_text_color=INK,
                            title_standoff=3)
            p.add_layout(cbar)
            lab_v = (ZERO_Y[r] - 466) / UNIT
            p.add_layout(Label(x=x0 + 58 * k, y=lab_v, text=str(DOY_LOW), text_font=FONT,
                               text_font_size="18px", text_color=INK, text_align="left",
                               text_baseline="middle"))
            p.add_layout(Label(x=x0 + 166 * k, y=lab_v, text=str(DOY_HIGH), text_font=FONT,
                               text_font_size="18px", text_color=INK, text_align="right",
                               text_baseline="middle"))
        row_figs.append(p)
    panels.append(row_figs)

grid = gridplot(panels, toolbar_location=None)

# column headings
header = blank_figure(frame_width=PAGE_W, frame_height=HEADER_H,
                      x_range=Range1d(0, PAGE_W), y_range=Range1d(0, HEADER_H))
header.text(x=[334, 746, 1181], y=[20, 20, 20], text=column_titles,
            text_font=value(FONT), text_font_size=value("21px"), text_color=INK,
            text_align="center", text_baseline="middle")

# row labels: year, quantity and tick values
GRID_H = PAGE_H - HEADER_H
strip = blank_figure(frame_width=STRIP_W, frame_height=GRID_H,
                     x_range=Range1d(0, STRIP_W), y_range=Range1d(0, GRID_H))


def from_top(py):
    return GRID_H - (py - HEADER_H)


strip.text(x=[20, 20], y=[from_top(244), from_top(674)], text=year_titles, angle=pi / 2,
           text_font=value(FONT), text_font_size=value("21px"), text_color=INK,
           text_align="center", text_baseline="middle")
big_parts = ["\u0394TA", "(K)", "\u0394TA", "(K)", "\u0394TA", "(K)", "\u0394TA", "(K)"]
big_pos = [175, 91, 391, 307, 605, 522, 821, 731]
strip.text(x=[52] * len(big_parts), y=[from_top(v) for v in big_pos], text=big_parts,
           angle=pi / 2, text_font=value(FONT), text_font_size=value("20px"),
           text_color=INK, text_align="center", text_baseline="middle")
sub_parts = ["P-C", "C-S", "P-G", "G-Sq"]
sub_pos = [132, 358, 563, 774]
strip.text(x=[52] * len(sub_parts), y=[from_top(v) for v in sub_pos], text=sub_parts,
           angle=pi / 2, text_font=value(FONT), text_font_size=value("17px"),
           text_color=INK, text_align="center", text_baseline="middle")

tick_y, tick_txt = [], []
for r in range(4):
    for t in y_ticks:
        py = ZERO_Y[r] - t * UNIT
        if py < PAGE_H - 12:
            tick_y.append(from_top(py))
            tick_txt.append(str(t).replace("-", "\u2212"))
strip.text(x=[73] * len(tick_y), y=tick_y, text=tick_txt, angle=pi / 2,
           text_font=value(FONT), text_font_size=value("19px"), text_color=INK,
           text_align="center", text_baseline="middle")

layout = column(header, row(strip, grid))

open("out.html", "w").write(file_html(layout, INLINE, title="Temperature differences"))
